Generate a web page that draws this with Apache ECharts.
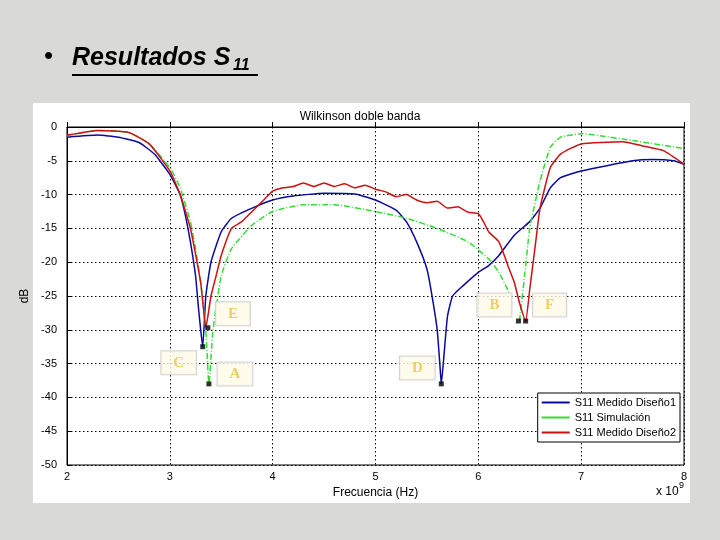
<!DOCTYPE html>
<html>
<head>
<meta charset="UTF-8">
<script src="https://cdn.jsdelivr.net/npm/echarts@6/dist/echarts.min.js"></script>
<style>
html,body{margin:0;padding:0;background:#d9d9d7;}
#c{width:720px;height:540px;}
</style>
</head>
<body>
<div id="c"></div>
<script>
// datos (frecuencia en GHz, dB)
var medido1 = [[2.0,-1.5],[2.3,-1.2],[2.5,-1.5],[2.7,-2.3],[2.85,-4],[3.0,-7],[3.1,-10],[3.15,-13],[3.2,-17],[3.25,-22],[3.28,-27],[3.3,-30],[3.32,-32.5],[3.35,-25],[3.4,-20],[3.5,-15.5],[3.6,-13.5],[3.8,-12],[4.0,-10.8],[4.2,-10.2],[4.5,-9.8],[4.8,-9.9],[5.0,-10.8],[5.2,-12.3],[5.3,-14],[5.4,-17],[5.5,-21],[5.55,-25],[5.6,-30],[5.63,-36],[5.64,-38],[5.67,-33],[5.7,-28],[5.75,-25],[5.85,-23.5],[6.0,-21.5],[6.1,-20.5],[6.2,-19],[6.35,-16],[6.5,-14],[6.6,-12],[6.7,-9],[6.8,-7.5],[7.0,-6.5],[7.5,-5],[7.7,-4.8],[7.9,-5],[8.0,-5.5]];
var simulacion = [[2.0,-1.3],[2.3,-0.5],[2.6,-0.8],[2.8,-2.5],[3.0,-6],[3.1,-9],[3.2,-14],[3.25,-18],[3.3,-23],[3.35,-30],[3.38,-38],[3.42,-30],[3.5,-22],[3.6,-18],[3.8,-14.5],[4.0,-12.5],[4.3,-11.5],[4.6,-11.5],[5.0,-12.5],[5.3,-13.5],[5.6,-15],[5.9,-17],[6.1,-19.5],[6.2,-21.5],[6.3,-24.5],[6.35,null],[6.4,-28.7],[6.45,-22],[6.5,-15],[6.6,-8],[6.7,-3],[6.8,-1.5],[7.0,-1],[7.5,-2],[8.0,-3.2]];
var medido2 = [[2.0,-1.2],[2.3,-0.5],[2.6,-0.8],[2.8,-2.5],[3.0,-6.5],[3.1,-10],[3.2,-15],[3.3,-23],[3.35,-29.7],[3.4,-25],[3.45,-22],[3.5,-19],[3.6,-15],[3.7,-14],[3.8,-12.5],[3.9,-11],[4.0,-9.5],[4.1,-9],[4.2,-8.8],[4.3,-8.3],[4.4,-8.8],[4.5,-8.3],[4.6,-8.8],[4.7,-8.4],[4.8,-9],[4.9,-8.6],[5.0,-9.2],[5.1,-9.6],[5.2,-10.3],[5.3,-10],[5.4,-10.8],[5.5,-11.2],[5.6,-11],[5.7,-12],[5.8,-11.8],[5.9,-12.6],[6.0,-12.8],[6.05,-14],[6.1,-15.5],[6.2,-17],[6.3,-21],[6.35,-23],[6.4,-26],[6.46,-28.7],[6.5,-24],[6.55,-18],[6.6,-12],[6.7,-6],[6.8,-4],[7.0,-2.5],[7.4,-2.2],[7.6,-2.8],[7.8,-3.5],[8.0,-5.5]];
// marcadores: x, y, etiqueta, desplazamiento de la etiqueta
var marcas = [[3.38,-38,'A',[26,-10]],[6.39,-28.7,'B',[-24,-16]],[3.32,-32.5,'C',[-24,16]],[5.64,-38,'D',[-24,-16]],[3.37,-29.7,'E',[25,-14]],[6.46,-28.7,'F',[24,-16]]];

var chart = echarts.init(document.getElementById('c'));
var dotted = {show:true, lineStyle:{color:'#000', type:[1.5,2.5], width:1}};
chart.setOption({
  backgroundColor:'#d9d9d7',
  graphic:[
    {type:'rect', shape:{x:33,y:103,width:657,height:400}, style:{fill:'#fff'}, z:-10},
    {type:'text', left:44, top:44, style:{text:'•', font:'26px Arial', fill:'#000'}},
    {type:'text', left:72, top:46, style:{text:'Resultados S', font:'italic bold 25px Arial', fill:'#000'}},
    {type:'text', left:233, top:58, style:{text:'11', font:'italic bold 16px Arial', fill:'#000'}},
    {type:'rect', shape:{x:72,y:74,width:186,height:2}, style:{fill:'#000'}},
    {type:'text', left:656, top:486, style:{text:'x 10', font:'12px Arial', fill:'#000'}},
    {type:'text', left:679, top:481, style:{text:'9', font:'9px Arial', fill:'#000'}}
  ],
  title:{text:'Wilkinson doble banda', left:'center', top:106,
    textStyle:{fontSize:12, fontWeight:'normal', fontFamily:'Arial', color:'#000'}},
  grid:{left:67, right:36, top:127, bottom:75, show:true, borderColor:'#000', borderWidth:1},
  legend:{
    data:['S11 Medido Diseño1','S11 Simulación','S11 Medido Diseño2'],
    orient:'vertical', right:40, bottom:98, itemWidth:28, itemHeight:2, itemGap:4,
    backgroundColor:'#fff', borderColor:'#000', borderWidth:1, padding:[4,4,4,4],
    textStyle:{fontSize:11, fontFamily:'Arial', color:'#000'}, icon:'rect'
  },
  xAxis:{type:'value', min:2, max:8, interval:1,
    name:'Frecuencia (Hz)', nameLocation:'middle', nameGap:18,
    nameTextStyle:{fontSize:12, fontFamily:'Arial', color:'#000'},
    axisLine:{lineStyle:{color:'#000'}}, axisTick:{inside:true},
    axisLabel:{fontSize:11, color:'#000', margin:6}, splitLine:dotted},
  yAxis:{type:'value', min:-50, max:0, interval:5,
    name:'dB', nameLocation:'middle', nameGap:28,
    nameTextStyle:{fontSize:12, fontFamily:'Arial', color:'#000'},
    axisLine:{show:true, lineStyle:{color:'#000'}}, axisTick:{inside:true},
    axisLabel:{fontSize:11, color:'#000', margin:10}, splitLine:dotted},
  series:[
    {name:'S11 Medido Diseño1', type:'line', data:medido1, smooth:0.15, showSymbol:false,
      lineStyle:{color:'#0a0aa0', width:1.5}, itemStyle:{color:'#0a0aa0'}},
    {name:'S11 Simulación', type:'line', data:simulacion, smooth:0.15, showSymbol:false,
      lineStyle:{color:'#33dd33', width:1.5, type:[6,2,1,2]}, itemStyle:{color:'#33dd33'}},
    {name:'S11 Medido Diseño2', type:'line', data:medido2, smooth:0.15, showSymbol:false,
      lineStyle:{color:'#cc1111', width:1.5}, itemStyle:{color:'#cc1111'}},
    {name:'marcas', type:'scatter', symbol:'rect', symbolSize:5, z:5,
      itemStyle:{color:'#000'},
      data:marcas.map(function(m){return {value:[m[0],m[1]], label:{offset:m[3]}};}),
      label:{show:true, position:'inside', formatter:function(p){return marcas[p.dataIndex][2];},
        fontFamily:'Times New Roman', fontWeight:'bold', fontSize:15, color:'#e8c440',
        backgroundColor:'#fffbe8', borderColor:'#c8c8c8', borderWidth:1,
        padding:[4,12,4,12]}}
  ]
});
</script>
</body>
</html>
